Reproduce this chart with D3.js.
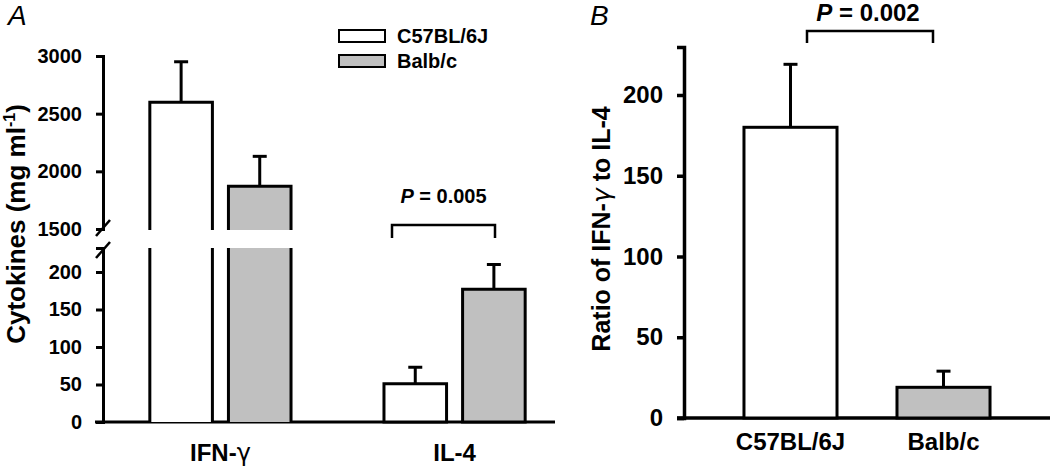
<!DOCTYPE html>
<html><head><meta charset="utf-8">
<script src="https://cdn.jsdelivr.net/npm/d3@7"></script>
<style>
html,body{margin:0;padding:0;background:#fff;}
svg{display:block;font-family:"Liberation Sans",Arial,sans-serif;}
.ax path,.ax line{stroke:#000;stroke-width:3px;}
</style></head><body>
<svg id="c" width="1050" height="469"></svg>
<script>
// ---- Data ----
const cytokines = ["IFN-γ", "IL-4"];
const strains = ["C57BL/6J", "Balb/c"];
const meanC57 = [2600, 51];
const errC57 = [350, 22];
const meanBalb = [1870, 177];
const errBalb = [260, 33];
const ratioMeans = [180, 19];
const ratioErrs = [39, 10];
const ticksUpperA = [1500, 2000, 2500, 3000];
const ticksLowerA = [0, 50, 100, 150, 200];
const ticksB = [0, 50, 100, 150, 200];
const pA = "0.005", pB = "0.002";
const colors = {"C57BL/6J": "#ffffff", "Balb/c": "#c0c0c0"};

const svg = d3.select("#c");
const black = "#000";
const fmt = d3.format("d");

// ---------- Panel A ----------
const axA = 103;
const yUp = d3.scaleLinear().domain([1500, 3000]).range([229, 56]);
const yLo = d3.scaleLinear().domain([0, 232]).range([422, 248]);
const xG = d3.scaleBand().domain(cytokines).range([axA, 572]).paddingInner(0.397).paddingOuter(0.2);
const xS = d3.scaleBand().domain(strains).range([0, xG.bandwidth()]).paddingInner(0.204).paddingOuter(0);

const dataA = [];
cytokines.forEach((c, i) => {
  dataA.push({cat: c, s: strains[0], v: meanC57[i], e: errC57[i]});
  dataA.push({cat: c, s: strains[1], v: meanBalb[i], e: errBalb[i]});
});
const yA = v => v > 232 ? yUp(v) : yLo(v);

const gA = svg.append("g");
gA.append("line").attr("x1", 95).attr("x2", 555).attr("y1", yLo(0)).attr("y2", yLo(0))
  .attr("stroke", black).attr("stroke-width", 3);

dataA.forEach(d => {
  const x0 = xG(d.cat) + xS(d.s), w = xS.bandwidth();
  const top = yA(d.v);
  const et = yA(d.v + d.e), cx = x0 + w / 2;
  gA.append("line").attr("x1", cx).attr("x2", cx).attr("y1", top).attr("y2", et).attr("stroke", black).attr("stroke-width", 3);
  gA.append("line").attr("x1", cx - 7).attr("x2", cx + 7).attr("y1", et).attr("y2", et).attr("stroke", black).attr("stroke-width", 3);
  if (d.v > 232) {
    const b1 = yUp(1500) + 1, b2 = yLo(232);
    gA.append("rect").attr("x", x0).attr("y", top).attr("width", w).attr("height", b1 - top).attr("fill", colors[d.s]);
    gA.append("rect").attr("x", x0).attr("y", b2).attr("width", w).attr("height", yLo(0) - b2).attr("fill", colors[d.s]);
    gA.append("path").attr("d", `M${x0},${b1}V${top}H${x0 + w}V${b1}`).attr("fill", "none").attr("stroke", black).attr("stroke-width", 3);
    gA.append("path").attr("d", `M${x0},${b2}V${yLo(0)}M${x0 + w},${b2}V${yLo(0)}`).attr("fill", "none").attr("stroke", black).attr("stroke-width", 3);
  } else {
    gA.append("rect").attr("x", x0).attr("y", top).attr("width", w).attr("height", yLo(0) - top)
      .attr("fill", colors[d.s]).attr("stroke", black).attr("stroke-width", 3);
  }
});

const axU = gA.append("g").attr("class", "ax").attr("transform", `translate(${axA},0)`)
  .call(d3.axisLeft(yUp).tickValues(ticksUpperA).tickFormat(fmt).tickSizeOuter(0).tickSize(7).tickPadding(14));
const axL = gA.append("g").attr("class", "ax").attr("transform", `translate(${axA},0)`)
  .call(d3.axisLeft(yLo).tickValues(ticksLowerA).tickFormat(fmt).tickSizeOuter(0).tickSize(7).tickPadding(14));
[axU, axL].forEach(a => a.selectAll("text").attr("font-size", 20).attr("font-weight", "bold")
  .attr("font-family", "Liberation Sans, Arial, sans-serif").attr("fill", black));

[228, 250].forEach(y => {
  gA.append("line").attr("x1", axA - 7).attr("x2", axA + 7).attr("y1", y + 8).attr("y2", y - 8)
    .attr("stroke", black).attr("stroke-width", 2.5);
});

cytokines.forEach(c => {
  const t = gA.append("text").attr("x", xG(c) + xG.bandwidth() / 2).attr("y", 461)
    .attr("text-anchor", "middle").attr("font-size", 24).attr("font-weight", "bold");
  if (c.indexOf("γ") >= 0) {
    t.append("tspan").text(c.replace("γ", ""));
    t.append("tspan").text("γ").attr("font-weight", "normal").attr("font-family", "DejaVu Sans, sans-serif");
  } else t.text(c);
});

const ylA = gA.append("text").attr("transform", "translate(25,224) rotate(-90)")
  .attr("text-anchor", "middle").attr("font-size", 26).attr("font-weight", "bold");
ylA.append("tspan").text("Cytokines (mg ml");
ylA.append("tspan").text("-1").attr("font-size", 16).attr("dy", -10);
ylA.append("tspan").text(")").attr("dy", 10);

svg.append("text").attr("x", 8).attr("y", 25).text("A").attr("font-size", 28).attr("font-style", "italic");

strains.forEach((s, i) => {
  const y = 30 + i * 25;
  gA.append("rect").attr("x", 339).attr("y", y).attr("width", 46).attr("height", 12)
    .attr("fill", colors[s]).attr("stroke", black).attr("stroke-width", 2);
  gA.append("text").attr("x", 397).attr("y", y + 13).text(s).attr("font-size", 20).attr("font-weight", "bold");
});

{
  const x1 = 392, x2 = 495;
  gA.append("path").attr("d", `M${x1},238V225H${x2}V238`).attr("fill", "none").attr("stroke", black).attr("stroke-width", 2.5);
  const t = gA.append("text").attr("x", (x1 + x2) / 2).attr("y", 203).attr("text-anchor", "middle")
    .attr("font-size", 20).attr("font-weight", "bold");
  t.append("tspan").text("P").attr("font-style", "italic");
  t.append("tspan").text(" = " + pA);
}

// ---------- Panel B ----------
const axB = 684;
const yB = d3.scaleLinear().domain([0, 200]).range([418, 95]);
const xB = d3.scaleBand().domain(strains).range([axB, 1050]).paddingInner(0.392).paddingOuter(0.392);
const gB = svg.append("g");
gB.append("line").attr("x1", 677).attr("x2", 1050).attr("y1", yB(0)).attr("y2", yB(0)).attr("stroke", black).attr("stroke-width", 3.5);

strains.forEach((s, i) => {
  const x0 = xB(s), w = xB.bandwidth(), cx = x0 + w / 2;
  const top = yB(ratioMeans[i]), et = yB(ratioMeans[i] + ratioErrs[i]);
  gB.append("line").attr("x1", cx).attr("x2", cx).attr("y1", top).attr("y2", et).attr("stroke", black).attr("stroke-width", 3);
  gB.append("line").attr("x1", cx - 7).attr("x2", cx + 7).attr("y1", et).attr("y2", et).attr("stroke", black).attr("stroke-width", 3);
  gB.append("rect").attr("x", x0).attr("y", top).attr("width", w).attr("height", yB(0) - top)
    .attr("fill", colors[s]).attr("stroke", black).attr("stroke-width", 3);
});

const axisB = gB.append("g").attr("class", "ax").attr("transform", `translate(${axB},0)`)
  .call(d3.axisLeft(yB.copy().domain([0, yB.invert(47)]).range([418, 47])).tickValues(ticksB).tickFormat(fmt).tickSizeOuter(0).tickSize(7).tickPadding(14));
axisB.selectAll("path,line").style("stroke-width", "3.5px");
axisB.selectAll("text").attr("font-size", 24).attr("font-weight", "bold")
  .attr("font-family", "Liberation Sans, Arial, sans-serif").attr("fill", black);

strains.forEach(s => {
  gB.append("text").attr("x", xB(s) + xB.bandwidth() / 2).attr("y", 450).attr("text-anchor", "middle")
    .attr("font-size", 24).attr("font-weight", "bold").text(s);
});

const ylB = gB.append("text").attr("transform", "translate(610,229) rotate(-90)")
  .attr("text-anchor", "middle").attr("font-size", 25).attr("font-weight", "bold");
ylB.append("tspan").text("Ratio of IFN-");
ylB.append("tspan").text("γ").attr("font-weight", "normal").attr("font-family", "DejaVu Sans, sans-serif").attr("font-style", "italic");
ylB.append("tspan").text(" to IL-4");

svg.append("text").attr("x", 590).attr("y", 25).text("B").attr("font-size", 28).attr("font-style", "italic");

{
  const x1 = 807, x2 = 933;
  gB.append("path").attr("d", `M${x1},43V31H${x2}V43`).attr("fill", "none").attr("stroke", black).attr("stroke-width", 2.5);
  const t = gB.append("text").attr("x", (x1 + x2) / 2 - 2).attr("y", 21).attr("text-anchor", "middle")
    .attr("font-size", 24).attr("font-weight", "bold");
  t.append("tspan").text("P").attr("font-style", "italic");
  t.append("tspan").text(" = " + pB);
}
</script></body></html>
